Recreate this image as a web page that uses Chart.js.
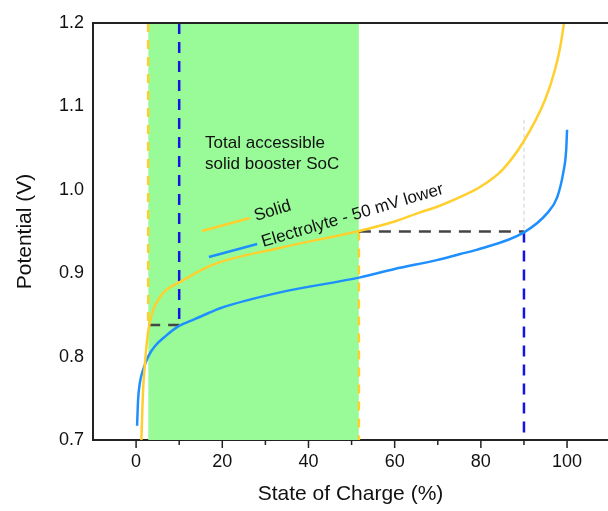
<!DOCTYPE html>
<html>
<head>
<meta charset="utf-8">
<script src="https://cdn.jsdelivr.net/npm/chart.js@4"></script>
<style>
  html, body { margin: 0; padding: 0; background: #fff; overflow: hidden; }
  #wrap { width: 608px; height: 511px; }
</style>
</head>
<body>
<div id="wrap"><canvas id="socChart"></canvas></div>
<script>
// State of charge (%) and potential (V)
const solidSoc = [1.23, 1.39, 1.62, 2.0, 2.4, 2.95, 3.94, 5.5, 7.0, 10, 17.7, 33, 52, 60, 65.9, 70, 75.9, 80, 85, 89.8, 94.9, 97.2, 98.4, 99.3];
const solidV = [0.700, 0.728, 0.760, 0.788, 0.812, 0.835, 0.856, 0.871, 0.880, 0.889, 0.910, 0.930, 0.951, 0.962, 0.973, 0.980, 0.993, 1.004, 1.024, 1.057, 1.108, 1.144, 1.171, 1.200];

const elecSoc = [0.23, 0.46, 0.86, 1.62, 2.8, 4.3, 6.7, 9.7, 13.6, 16.7, 19.5, 33.4, 52, 60, 70, 75.2, 79, 90, 95.4, 97.7, 99.1, 99.8, 100];
const elecV = [0.717, 0.748, 0.768, 0.784, 0.800, 0.812, 0.824, 0.836, 0.845, 0.852, 0.858, 0.877, 0.895, 0.905, 0.916, 0.923, 0.928, 0.949, 0.972, 0.991, 1.020, 1.048, 1.072];

// accessible window of the solid booster
const solidStart = 2.8;
const solidEnd = 51.7;
const elecStart = 10;
const elecEnd = 90;
const vLow = 0.838;
const vHigh = 0.95;
const dottedTop = 1.084;

const xMajorTicks = [0, 20, 40, 60, 80, 100];
const xMinorTicks = [10, 30, 50, 70, 90];
const yTicks = [0.7, 0.8, 0.9, 1.0, 1.1, 1.2];

const FONT = "Arial, 'Liberation Sans', sans-serif";
const YELLOW = "#FFCF2E";
const BLUE = "#1E8FFF";
const DARKBLUE = "#1414E6";
const GREY = "#454545";

const pts = (xs, ys) => xs.map((x, i) => ({ x: x, y: ys[i] }));

function guide(data, color, dash, width) {
  return {
    data: data,
    borderColor: color,
    borderDash: dash,
    borderWidth: width,
    pointRadius: 0,
    fill: false,
    tension: 0
  };
}

// frame top line, tick marks and the text labels
const decorations = {
  id: "decorations",
  afterDraw(chart) {
    const ctx = chart.ctx;
    const area = chart.chartArea;
    const xs = chart.scales.x;
    const ys = chart.scales.y;
    const px = v => xs.getPixelForValue(v);
    const py = v => ys.getPixelForValue(v);

    ctx.save();
    ctx.strokeStyle = "#222";
    ctx.lineWidth = 2;
    ctx.beginPath();
    ctx.moveTo(area.left, area.top);
    ctx.lineTo(area.right, area.top);
    ctx.stroke();

    ctx.lineWidth = 1.5;
    xMajorTicks.forEach(v => {
      ctx.beginPath();
      ctx.moveTo(px(v), area.bottom);
      ctx.lineTo(px(v), area.bottom + 8);
      ctx.stroke();
    });
    xMinorTicks.forEach(v => {
      ctx.beginPath();
      ctx.moveTo(px(v), area.bottom);
      ctx.lineTo(px(v), area.bottom + 5);
      ctx.stroke();
    });

    // legend sample lines
    ctx.lineWidth = 2.5;
    ctx.strokeStyle = YELLOW;
    ctx.beginPath();
    ctx.moveTo(px(15.3), py(0.9506));
    ctx.lineTo(px(26.45), py(0.9662));
    ctx.stroke();
    ctx.strokeStyle = BLUE;
    ctx.beginPath();
    ctx.moveTo(px(16.9), py(0.9194));
    ctx.lineTo(px(28.1), py(0.935));
    ctx.stroke();

    ctx.fillStyle = "#111";
    ctx.font = "17px " + FONT;
    ctx.textBaseline = "alphabetic";
    ctx.textAlign = "left";
    ctx.fillText("Total accessible", px(16.0), py(1.050));
    ctx.fillText("solid booster SoC", px(16.0), py(1.025));

    ctx.save();
    ctx.translate(px(27.8), py(0.9626));
    ctx.rotate(-17 * Math.PI / 180);
    ctx.fillText("Solid", 0, 0);
    ctx.restore();

    ctx.save();
    ctx.translate(px(29.5), py(0.9314));
    ctx.rotate(-16.5 * Math.PI / 180);
    ctx.fillText("Electrolyte - 50 mV lower", 0, 0);
    ctx.restore();

    ctx.restore();
  }
};

new Chart(document.getElementById("socChart"), {
  type: "line",
  data: {
    datasets: [
      {
        label: "Solid",
        data: pts(solidSoc, solidV),
        borderColor: YELLOW,
        borderWidth: 2.5,
        pointRadius: 0,
        cubicInterpolationMode: "monotone",
        fill: false
      },
      {
        label: "Electrolyte",
        data: pts(elecSoc, elecV),
        borderColor: BLUE,
        borderWidth: 2.5,
        pointRadius: 0,
        cubicInterpolationMode: "monotone",
        fill: false
      },
      guide([{ x: elecStart, y: 1.2 }, { x: elecStart, y: vLow }], DARKBLUE, [11, 8], 2.5),
      guide([{ x: elecEnd, y: vHigh }, { x: elecEnd, y: 0.7 }], DARKBLUE, [11, 8], 2.5),
      guide([{ x: solidStart, y: vLow }, { x: elecStart, y: vLow }], GREY, [12, 8], 2.5),
      guide([{ x: solidEnd, y: vHigh }, { x: elecEnd, y: vHigh }], GREY, [12, 8], 2.5),
      guide([{ x: elecEnd, y: dottedTop }, { x: elecEnd, y: vHigh }], "#cfcfcf", [4, 3], 1),
      guide([{ x: solidStart, y: 1.2 }, { x: solidStart, y: vLow }], YELLOW, [9, 8], 2.5),
      guide([{ x: solidEnd, y: vHigh }, { x: solidEnd, y: 0.7 }], YELLOW, [9, 8], 2.5),
      {
        label: "Accessible window",
        data: [{ x: solidStart, y: 1.2 }, { x: solidEnd, y: 1.2 }],
        borderWidth: 0,
        borderColor: "rgba(0,0,0,0)",
        backgroundColor: "#98FB98",
        pointRadius: 0,
        fill: "start"
      }
    ]
  },
  options: {
    responsive: true,
    maintainAspectRatio: false,
    animation: false,
    layout: { padding: { top: 23, right: 0, left: 0, bottom: 0 } },
    plugins: {
      legend: { display: false },
      tooltip: { enabled: false }
    },
    scales: {
      x: {
        type: "linear",
        min: -10,
        max: 109.5,
        afterBuildTicks: scale => {
          scale.ticks = xMajorTicks.map(v => ({ value: v }));
        },
        afterFit: scale => { scale.height = 71; },
        grid: { drawOnChartArea: false, drawTicks: false },
        border: { display: true, color: "#222", width: 2 },
        ticks: {
          padding: 11,
          color: "#111",
          font: { family: FONT, size: 18 },
          maxRotation: 0,
          callback: v => String(v)
        },
        title: {
          display: true,
          text: "State of Charge (%)",
          color: "#111",
          font: { family: FONT, size: 21 },
          padding: { top: 0, bottom: 4 }
        }
      },
      y: {
        type: "linear",
        min: 0.7,
        max: 1.2,
        afterBuildTicks: scale => {
          scale.ticks = yTicks.map(v => ({ value: v }));
        },
        afterFit: scale => { scale.width = 93; },
        grid: { drawOnChartArea: false, drawTicks: false },
        border: { display: true, color: "#222", width: 2 },
        ticks: {
          padding: 9,
          color: "#111",
          font: { family: FONT, size: 18 },
          callback: v => Number(v).toFixed(1)
        },
        title: {
          display: true,
          text: "Potential (V)",
          color: "#111",
          font: { family: FONT, size: 21 },
          padding: { top: 13, bottom: 0 }
        }
      }
    }
  },
  plugins: [decorations]
});
</script>
</body>
</html>
